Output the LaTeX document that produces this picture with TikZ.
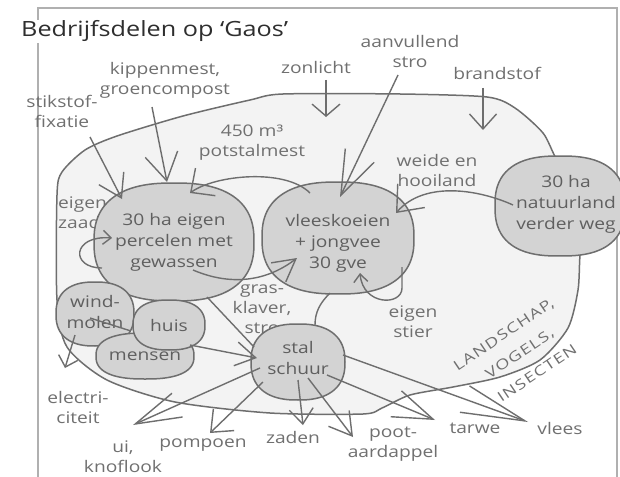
\documentclass[tikz,border=0pt]{standalone}
\usepackage{fontspec}
\newfontfamily\hand[FakeStretch=1.2]{Open Sans}
\newfontfamily\handcaps[FakeStretch=1.3,LetterSpace=8]{Open Sans}
\usetikzlibrary{arrows.meta,calc}
\definecolor{ink}{HTML}{6E6E6E}
\definecolor{txt}{HTML}{707070}
\definecolor{blobfill}{HTML}{D3D3D3}
\definecolor{areafill}{HTML}{F3F3F3}
\definecolor{framec}{HTML}{B0B0B0}
\definecolor{titlec}{HTML}{2E2E2E}
% superellipse blob: cx, cy, rx, ry, exponent
\newcommand\blobshape[5]{%
  \draw[blobline] plot[smooth cycle, domain=2.5:357.5, samples=72, variable=\t]
   ({#1+#3*cos(\t)/abs(cos(\t))*pow(abs(cos(\t)),#5)},
    {#2+#4*sin(\t)/abs(sin(\t))*pow(abs(sin(\t)),#5)});}
\begin{document}
\begin{tikzpicture}[x=1pt,y=-1pt,
  lab/.style={text=txt, font=\hand\fontsize{16}{20}\selectfont, align=center, inner sep=0pt},
  blobline/.style={draw=ink, fill=blobfill, line width=1.5pt},
  blobtxt/.style={inner sep=0pt, text=txt!85!black, font=\hand\fontsize{16}{21}\selectfont, align=center},
  conn/.style={draw=ink, line width=1.4pt},
  arrowtip/.style 2 args={-{Straight Barb[length=#1pt,width=#2pt]}},
  capslab/.style={text=txt, font=\handcaps\fontsize{14}{16}\selectfont, inner sep=0pt, rotate=34},
]
\useasboundingbox (0,0) rectangle (620,476);
\fill[white] (0,0) rectangle (620,476);
% frame
\draw[framec, line width=1.2pt] (38,480) -- (38,8) -- (617,8) -- (617,480);
% title
\node[anchor=base west, font=\hand\fontsize{21}{24}\selectfont, text=titlec, fill=white, inner sep=1pt] (title) at (20,37) {Bedrijfsdelen op ‘Gaos’};
% outer area
\draw[ink, fill=areafill, line width=1.5pt] plot[smooth cycle, tension=0.45] coordinates {
 (57,195) (62,172) (85,150) (117,136) (183,116) (250,100) (283,94) (400,94) (487,97)
 (515,108) (543,133) (557,160) (585,200) (580,255) (578,290) (568,328) (540,360)
 (500,377) (453,387) (410,395) (382,408) (363,414) (270,413) (175,402) (107,380)
 (67,347) (57,300)};
% labels
\node[lab] (stik) at (62,111) {stikstof-\\fixatie};
\node[lab] (kip) at (165,80) {kippenmest,\\groencompost};
\node[lab] (zon) at (316,68) {zonlicht};
\node[lab] (aanv) at (410,52) {aanvullend\\stro};
\node[lab] (brand) at (497,73) {brandstof};
\node[lab] (pot) at (252,143) {450 m³\\potstalmest};
\node[lab] (weide) at (437,170) {weide en\\hooiland};
\node[lab, anchor=west, align=left] (zaad) at (58,213) {eigen\\zaad};
\node[lab] (gras) at (262,309) {gras-\\klaver,\\stro};
\node[lab] (stier) at (413,322) {eigen\\stier};
\node[lab] (elec) at (78,407) {electri-\\citeit};
\node[lab] (ui) at (123,457) {ui,\\knoflook};
\node[lab] (pomp) at (203,445) {pompoen};
\node[lab] (zaden) at (293,437) {zaden};
\node[lab] (poot) at (393,444) {poot-\\aardappel};
\node[lab] (tarwe) at (475,428) {tarwe};
\node[lab] (vlees) at (560,428) {vlees};
\node[capslab] (land) at (504,335) {LANDSCHAP,};
\node[capslab] (vog) at (520,354) {VOGELS,};
\node[capslab] (ins) at (537,373) {INSECTEN};
% blobs
\blobshape{174}{242}{80}{59}{0.8}
\node[blobtxt] (perc) at (174,242) {30 ha eigen\\percelen met\\gewassen};
\blobshape{338}{238}{76}{56}{0.8}
\node[blobtxt] (vlee) at (338,243) {vleeskoeien\\+ jongvee\\30 gve};
\blobshape{560}{206}{65}{50}{0.78}
\node[blobtxt] (natu) at (566,204) {30 ha\\natuurland\\verder weg};
\blobshape{95}{314}{39}{32}{0.82}
\node[blobtxt] (wind) at (95,312) {wind-\\molen};
\blobshape{145}{356}{49}{23}{0.8}
\node[blobtxt] (mens) at (145,356) {mensen};
\blobshape{169}{325}{36}{25}{0.82}
\node[blobtxt] (huis) at (169,325) {huis};
\blobshape{298}{362}{47}{38}{0.82}
\node[blobtxt] (stal) at (298,358) {stal\\schuur};
% connectors
\draw[conn, arrowtip={22}{28}] ($(stik)+(28,26)$) -- ($(perc)+(-52,-43)$);
\draw[conn, arrowtip={27}{33}] ($(kip)+(-13,27)$) -- ($(perc)+(-7,-60)$);
\draw[conn, arrowtip={12}{28}] ($(zon)+(10,12)$) -- ($(zon)+(10,49)$);
\draw[conn, arrowtip={44}{32}] ($(aanv)+(-12,23)$) -- ($(vlee)+(2,-46)$);
\draw[conn, arrowtip={15}{27}] ($(brand)+(-14,15)$) -- ($(brand)+(-14,57)$);
\draw[conn, arrowtip={18}{34}] ($(vlee)+(-28,-50)$) .. controls ($(vlee)+(-53,-75)$) and ($(perc)+(41,-67)$) .. ($(perc)+(16,-49)$);
\draw[conn, arrowtip={22}{36}] ($(natu)+(-53,1)$) .. controls ($(natu)+(-86,-14)$) and ($(vlee)+(87,-63)$) .. ($(vlee)+(58,-30)$);
\draw[conn, arrowtip={8}{14}] ($(perc)+(-72,26)$) .. controls ($(perc)+(-104,26)$) and ($(perc)+(-102,-7)$) .. ($(perc)+(-62,-4)$);
\draw[conn, arrowtip={22}{24}] ($(perc)+(19,28)$) .. controls ($(perc)+(66,48)$) and ($(vlee)+(-63,32)$) .. ($(vlee)+(-41,15)$);
\draw[conn, arrowtip={8}{14}] ($(vlee)+(64,24)$) -- ($(vlee)+(64,45)$) .. controls ($(vlee)+(64,63)$) and ($(vlee)+(25,63)$) .. ($(vlee)+(22,30)$);
\draw[conn] ($(perc)+(33,55)$) -- ($(stal)+(-44,-11)$);
\draw[conn] ($(wind)+(-5,6)$) -- ($(huis)+(-38,6)$);
\draw[conn, arrowtip={10}{20}] ($(wind)+(-20,23)$) -- ($(elec)+(-13,-39)$);
\draw[conn, arrowtip={20}{24}] ($(mens)+(45,-11)$) -- ($(stal)+(-41,0)$);
\draw[conn, arrowtip={46}{26}] ($(stal)+(-38,10)$) -- ($(ui)+(10,-32)$);
\draw[conn, arrowtip={18}{30}] ($(stal)+(-35,24)$) -- ($(pomp)+(7,-12)$);
\draw[conn, arrowtip={15}{24}] ($(stal)+(0,22)$) -- ($(zaden)+(10,-12)$);
\draw[conn, arrowtip={22}{26}] ($(stal)+(10,20)$) -- ($(poot)+(-40,-7)$);
\draw[conn, arrowtip={40}{28}] ($(stal)+(29,17)$) -- ($(tarwe)+(-40,-8)$);
\draw[conn, arrowtip={64}{28}] ($(stal)+(45,-3)$) -- ($(vlees)+(-32,-6)$);
\draw[conn] ($(vlee)+(-8,50)$) .. controls ($(vlee)+(-18,60)$) and ($(stal)+(17,-46)$) .. ($(stal)+(17,-33)$);
\end{tikzpicture}
\end{document}
